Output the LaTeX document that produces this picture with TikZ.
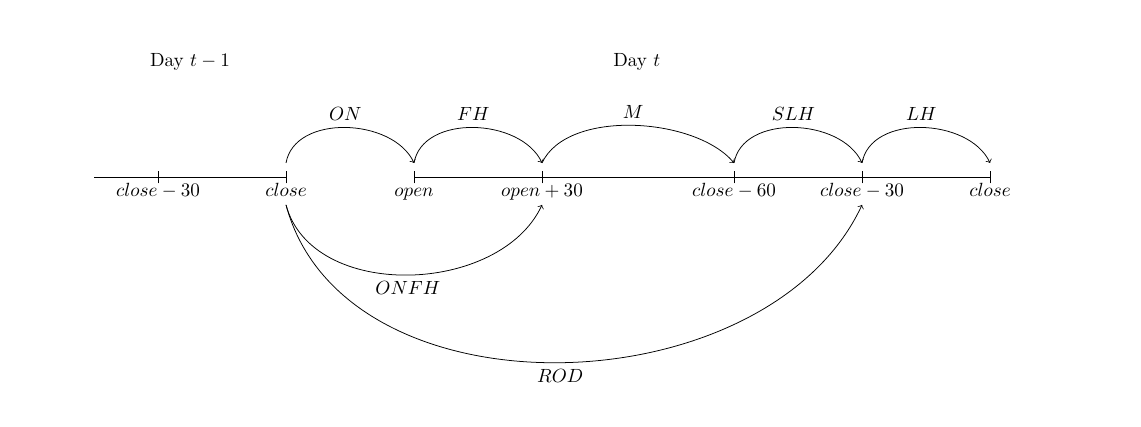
\documentclass[tikz,border=0pt]{standalone}
\usetikzlibrary{positioning}

\begin{document}
\begin{tikzpicture}[x=1.178cm, y=1.178cm,
lblTime/.style={anchor=north, text height=1.5ex, text depth=0.25ex},
lblDay/.style={anchor=center},
arcUp/.style={out=80, in=115},
arcDown/.style={out=-75, in=-115}
]

\useasboundingbox (-1.469,-3.891) rectangle (16.359,2.766);

% time axis
\draw (0,0) -- (3,0);
\draw (5,0) -- (14,0);
\foreach \x in {1,3,5,7,10,12,14}
	\draw (\x,-0.1) -- (\x,0.1);

\node[lblDay] (dayPrev) at (1.5, 1.8) {Day $t-1$};
\node[lblDay] (dayCur) at (8.48, 1.8) {Day $t$};

\node[lblTime] (closePrev30) at (1, 0) {$close-30$};
\node[lblTime] (closePrev) at (3, 0) {$close$};
\node[lblTime] (open) at (5, 0) {$open$};
\node[lblTime] (open30) at (7, 0) {$open+30$};
\node[lblTime] (close60) at (10, 0) {$close-60$};
\node[lblTime] (close30) at (12, 0) {$close-30$};
\node[lblTime] (close) at (14, 0) {$close$};

\coordinate (closePrevTop) at (3, 0.22);
\coordinate (openTop) at (5, 0.22);
\coordinate (open30Top) at (7, 0.22);
\coordinate (close60Top) at (10, 0.22);
\coordinate (close30Top) at (12, 0.22);
\coordinate (closeTop) at (14, 0.22);

\path[->] 	(closePrevTop) 		edge[arcUp] 								node[above] {$ON$} (openTop)
			(openTop) 			edge[arcUp] 								node[above] {$FH$} (open30Top)
			(open30Top) 		edge[out=65, in=130, looseness=0.8] 		node[above] {$M$} (close60Top)
			(close60Top) 		edge[arcUp] 								node[above] {$SLH$} (close30Top)
			(close30Top) 		edge[arcUp] 								node[above] {$LH$} (closeTop)
			(closePrev.south) 	edge[arcDown] 								node[below] {$ONFH$} (open30.south)
			(closePrev.south) 	edge[arcDown] 								node[below] {$ROD$} (close30.south);

\end{tikzpicture}
\end{document}
